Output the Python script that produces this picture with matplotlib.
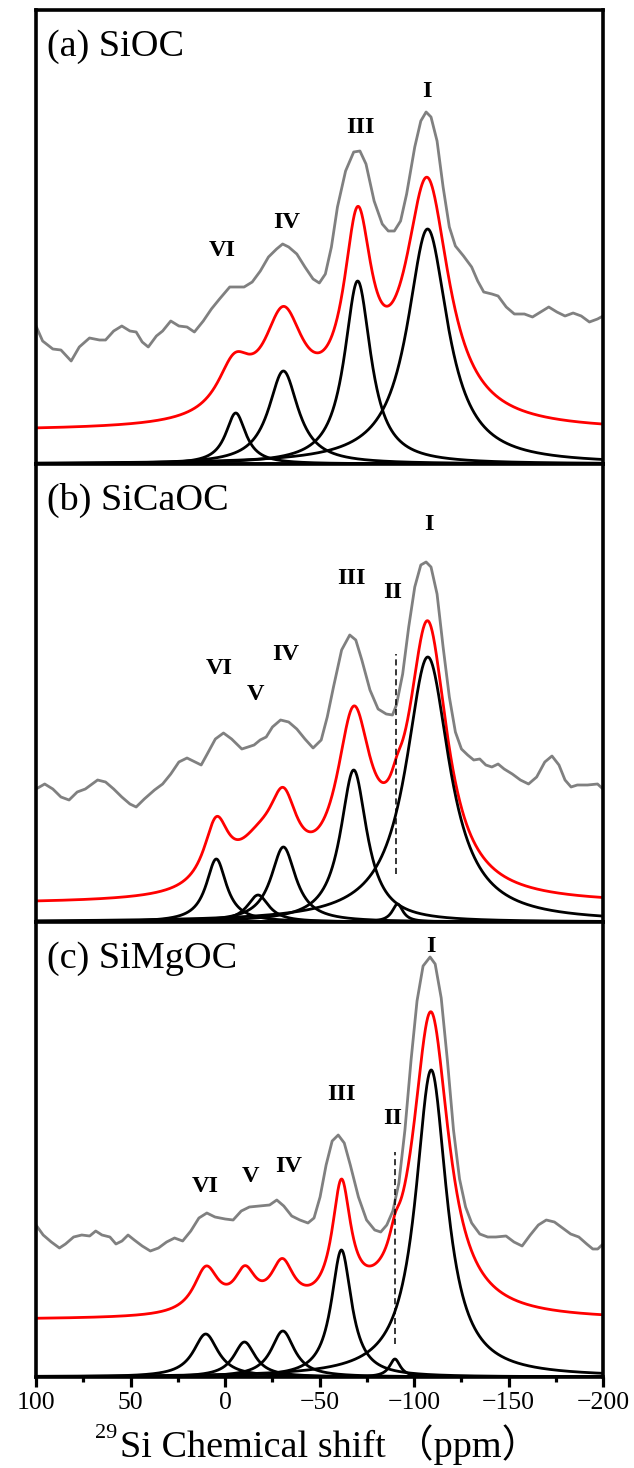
import numpy as np
import matplotlib
matplotlib.use('Agg')
import matplotlib.pyplot as plt

# ---- data (ppm, height in panel pixels) ----
panel_titles = ['(a) SiOC', '(b) SiCaOC', '(c) SiMgOC']

# measured spectra (gray), ppm / intensity
a_exp_x = [100, 96.5, 91.1, 86.8, 81.4, 77.1, 71.7, 66.4, 63.2, 58.9, 54.6, 50.3, 47.0, 43.8, 40.6, 36.3,
           33.0, 28.7, 24.4, 20.1, 16.2, 11.5, 7.2, 2.9, -2.5, -5.8, -10.1, -14.4, -18.7, -23.0, -27.3,
           -30.5, -33.7, -38.0, -42.3, -46.6, -49.9, -53.1, -56.3, -59.5, -63.8, -68.1, -71.4, -74.6,
           -78.9, -83.2, -86.4, -89.6, -92.9, -96.1, -100.4, -103.6, -106.4, -109.0, -112.2, -115.4,
           -118.7, -121.9, -126.2, -130.5, -133.7, -136.9, -141.2, -144.5, -148.8, -153.1, -158.4,
           -162.7, -167.0, -171.3, -175.6, -179.9, -184.2, -188.5, -192.8, -197.1, -200]
a_exp_y = [138, 123, 115, 114, 103, 117, 126, 124, 124, 133, 138, 133, 132, 122, 117, 128,
           133, 143, 138, 137, 132, 143, 155, 165, 177, 177, 177, 182, 193, 207, 215,
           220, 217, 210, 197, 185, 181, 190, 217, 257, 293, 312, 313, 300,
           263, 240, 233, 233, 243, 270, 317, 343, 352, 347, 323, 277,
           237, 218, 208, 197, 183, 172, 170, 168, 157, 150, 150,
           147, 152, 157, 152, 148, 151, 148, 142, 145, 148]

b_exp_x = [100, 95.4, 91.1, 86.8, 82.5, 78.2, 73.9, 67.4, 63.2, 58.9, 54.6, 50.3, 47.0, 42.7, 37.3,
           33.0, 28.7, 24.4, 20.1, 15.8, 12.6, 9.4, 5.1, 0.8, -3.5, -8.9, -12.2, -15.4, -18.6, -21.8,
           -25.1, -29.4, -33.7, -38.0, -42.3, -46.6, -50.9, -54.1, -57.4, -61.7, -66.0, -69.2, -72.4,
           -76.7, -81.0, -85.3, -88.6, -90.7, -94.0, -97.2, -100.4, -103.6, -106.4, -109.0, -112.2,
           -115.4, -118.7, -121.9, -125.1, -128.4, -131.6, -134.8, -138.0, -141.2, -144.5, -147.7,
           -152.0, -156.3, -160.6, -164.9, -169.2, -173.0, -176.7, -179.9, -183.1, -186.4, -191.8,
           -197.1, -200]
b_exp_y = [133, 138, 133, 125, 122, 130, 133, 142, 140, 133, 125, 118, 115, 123, 132,
           138, 148, 160, 164, 160, 157, 168, 183, 189, 183, 173, 175, 177, 182, 185,
           195, 202, 200, 193, 183, 174, 182, 205, 235, 272, 287, 282, 262,
           232, 213, 208, 207, 217, 248, 295, 335, 357, 360, 355, 328,
           275, 225, 190, 173, 167, 162, 163, 157, 155, 158, 153,
           148, 142, 138, 145, 160, 166, 157, 142, 135, 137, 137,
           138, 133]

c_exp_x = [100, 96.2, 91.9, 87.6, 84.4, 80.1, 75.8, 71.6, 68.4, 65.1, 60.9, 57.7, 54.5, 51.3, 48.0,
           43.8, 39.5, 35.2, 30.9, 26.7, 22.4, 18.1, 13.8, 9.6, 5.3, -0.1, -4.3, -8.6, -12.9, -18.2,
           -23.6, -27.4, -31.1, -35.3, -39.6, -43.9, -47.1, -50.3, -53.5, -56.7, -59.9, -63.1, -66.3,
           -70.6, -74.9, -79.2, -82.4, -85.6, -88.8, -92.0, -95.2, -98.4, -101.6, -104.8, -108.5,
           -111.2, -114.4, -117.7, -120.9, -124.1, -127.3, -130.5, -134.8, -139.0, -143.3, -148.7,
           -152.9, -157.2, -161.5, -165.8, -170.0, -174.3, -178.6, -182.9, -187.2, -191.4, -194.6,
           -197.2, -200]
c_exp_y = [152, 142, 135, 129, 133, 140, 142, 141, 146, 142, 140, 133, 136, 142, 137,
           131, 126, 129, 135, 139, 136, 146, 159, 164, 160, 158, 157, 166, 170, 171,
           172, 177, 171, 161, 157, 154, 159, 180, 212, 236, 242, 234, 212,
           180, 157, 147, 145, 152, 166, 194, 247, 316, 376, 411, 420,
           413, 379, 316, 247, 198, 170, 154, 143, 140, 140, 141,
           135, 131, 142, 152, 157, 155, 149, 143, 140, 133, 128,
           128, 133]

# deconvoluted components (black): centre ppm, height, FWHM ppm
a_pk_c = [-107.2, -70.2, -30.9, -5.7]
a_pk_h = [235, 183, 93, 51]
a_pk_w = [26, 17, 19, 13]

b_pk_c = [-107.3, -91.3, -68.1, -30.9, -17.5, 4.6]
b_pk_h = [265, 18, 152, 75, 27, 63]
b_pk_w = [28, 7, 17, 16, 14, 13]

c_pk_c = [-109.1, -89.9, -61.6, -30.6, -10.3, 10.2]
c_pk_h = [307, 18, 127, 46, 35, 43]
c_pk_w = [20, 7, 13, 15, 14, 16]

# fitted envelope (red), offset above baseline
a_fit_c = [-107.0, -70.2, -30.9, -5.0]
a_fit_h = [240, 183, 100, 50]
a_fit_w = [28, 18, 26, 22]
a_fit_off = 33

b_fit_c = [-107.3, -91.0, -68.1, -30.9, -17.5, 4.6]
b_fit_h = [268, 15, 165, 72, 38, 64]
b_fit_w = [25, 8, 22, 18, 30, 16]
b_fit_off = 18

c_fit_c = [-108.9, -89.9, -61.6, -30.3, -10.6, 10.0]
c_fit_h = [305, 18, 120, 45, 37, 45]
c_fit_w = [23, 7, 12, 15, 14, 16]
c_fit_off = 57

# peak labels: text, ppm, height
a_lab = ['I', 'III', 'IV', 'VI']
a_lab_x = [-106.9, -71.8, -32.6, 1.2]
a_lab_y = [373, 337, 242, 213]

b_lab = ['I', 'III', 'II', 'IV', 'V', 'VI']
b_lab_x = [-107.9, -67.0, -88.5, -32.0, -16.0, 2.9]
b_lab_y = [398, 343, 329, 267, 228, 253]

c_lab = ['I', 'III', 'II', 'IV', 'V', 'VI']
c_lab_x = [-108.7, -61.6, -88.8, -33.8, -13.3, 10.6]
c_lab_y = [430, 282, 259, 210, 201, 191]

# dashed markers for site II: ppm, y from, y to
b_dash = [-90.7, 48, 268]
c_dash = [-89.9, 33, 225]

ticks_major = [100, 50, 0, -50, -100, -150, -200]
ticks_minor = [75, 25, -25, -75, -125, -175]


def lorentz(x, c, h, w):
    return h / (1 + ((x - c) / (w / 2.0)) ** 2)


plt.rcParams['font.family'] = ['Liberation Serif', 'Noto Sans CJK SC']

fig = plt.figure(figsize=(6.34, 14.68), dpi=100)
W, H = 634.0, 1468.0
# panel boxes in pixels: (top, bottom)
boxes = [(9.5, 464), (464, 922), (922, 1377)]
x0, x1 = 36, 603

xs = np.linspace(100, -200, 2000)

panels = [
    (a_exp_x, a_exp_y, a_pk_c, a_pk_h, a_pk_w, a_fit_c, a_fit_h, a_fit_w, a_fit_off, a_lab, a_lab_x, a_lab_y, None),
    (b_exp_x, b_exp_y, b_pk_c, b_pk_h, b_pk_w, b_fit_c, b_fit_h, b_fit_w, b_fit_off, b_lab, b_lab_x, b_lab_y, b_dash),
    (c_exp_x, c_exp_y, c_pk_c, c_pk_h, c_pk_w, c_fit_c, c_fit_h, c_fit_w, c_fit_off, c_lab, c_lab_x, c_lab_y, c_dash),
]

axes = []
for i, (top, bot) in enumerate(boxes):
    ax = fig.add_axes([x0 / W, 1 - bot / H, (x1 - x0) / W, (bot - top) / H])
    ex, ey, pc, ph, pw, fc, fh, fw, foff, labs, lx, ly, dash = panels[i]

    ax.plot(ex, ey, color='#808080', lw=2.0)

    fit = np.full_like(xs, foff, dtype=float)
    for c, h, w in zip(fc, fh, fw):
        fit += lorentz(xs, c, h, w)
    ax.plot(xs, fit, color='#ff0000', lw=2.0)

    for c, h, w in zip(pc, ph, pw):
        ax.plot(xs, lorentz(xs, c, h, w), color='black', lw=2.0)

    if dash is not None:
        ax.plot([dash[0], dash[0]], [dash[1], dash[2]], color='black', lw=1.1, ls=(0, (4, 2.5)))

    for t, x, y in zip(labs, lx, ly):
        ax.text(x, y, t, ha='center', va='center', fontsize=17.5, fontweight='bold')

    ax.text(0.02, 1 - 46.0 / (bot - top), panel_titles[i], transform=ax.transAxes,
            ha='left', va='baseline', fontsize=27.5)

    ax.set_xlim(100, -200)
    ax.set_ylim(0, bot - top)
    ax.set_yticks([])
    for s in ax.spines.values():
        s.set_linewidth(2.6)
    axes.append(ax)

for ax in axes[:2]:
    ax.set_xticks([])

axc = axes[2]
axc.set_xticks(ticks_major)
axc.set_xticks(ticks_minor, minor=True)
axc.tick_params(axis='x', which='major', direction='out', length=7.2, width=2.3, labelsize=18.5, pad=3.5)
axc.tick_params(axis='x', which='minor', direction='out', length=3.6, width=2.3)

# x label with superscript mass number
fig.text(120 / W, 1 - 1457 / H, 'Si Chemical shift （ppm）', ha='left', va='baseline', fontsize=27.5)
fig.text(117 / W, 1 - 1438 / H, '29', ha='right', va='baseline', fontsize=16)

fig.savefig('out.png', dpi=100)
